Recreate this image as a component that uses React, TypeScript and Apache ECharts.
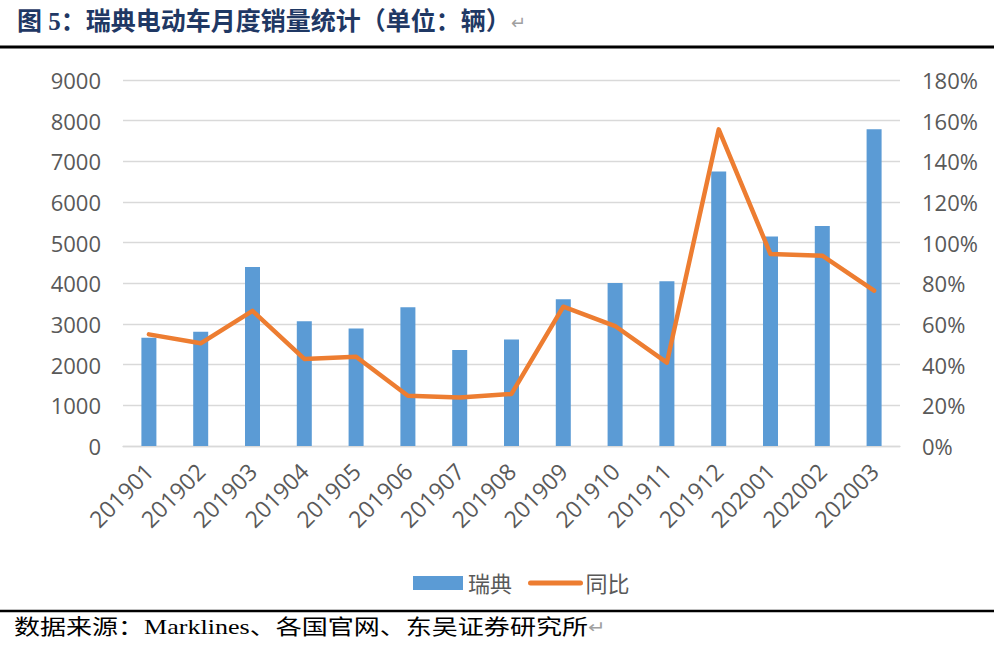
import React, { useEffect, useRef } from "react";
import * as echarts from "echarts";

const categories = [
  "201901", "201902", "201903", "201904", "201905", "201906", "201907", "201908",
  "201909", "201910", "201911", "201912", "202001", "202002", "202003",
];
const sales = [2660, 2810, 4400, 3070, 2890, 3410, 2360, 2620, 3610, 4010, 4050, 6750, 5150, 5410, 7790];
const yoy = [0.549, 0.505, 0.665, 0.428, 0.439, 0.247, 0.238, 0.256, 0.685, 0.59, 0.41, 1.557, 0.944, 0.936, 0.764];
const seriesNames = ["瑞典", "同比"];
const titleText = "图 5：瑞典电动车月度销量统计（单位：辆）";
const sourceText = "数据来源：Marklines、各国官网、东吴证券研究所";

const axisFont = "'Open Sans', 'Noto Sans CJK SC', sans-serif";
const serifFont = "'Liberation Serif', 'Times New Roman', 'Noto Sans CJK SC', serif";

export default function App() {
  const ref = useRef<HTMLDivElement>(null);
  useEffect(() => {
    if (!ref.current) return;
    const chart = echarts.init(ref.current, undefined, { renderer: "svg" });
    chart.setOption({
      animation: false,
      backgroundColor: "#ffffff",
      grid: { left: 123, right: 94, top: 80, bottom: 203 },
      legend: {
        left: 408,
        top: 567,
        itemGap: 16,
        itemWidth: 50,
        itemHeight: 14,
        textStyle: { fontSize: 22, color: "#595959", fontFamily: axisFont },
        data: [
          { name: seriesNames[0], icon: "rect" },
          {
            name: seriesNames[1],
            itemStyle: { color: "rgba(0,0,0,0)", borderColor: "rgba(0,0,0,0)", borderWidth: 0 },
            lineStyle: { width: 5, cap: "round", color: "#ed7d31" },
          },
        ],
      },
      xAxis: {
        type: "category",
        data: categories,
        axisLine: { lineStyle: { color: "#d9d9d9", width: 1.3 } },
        axisTick: { show: false },
        axisLabel: {
          rotate: 45,
          margin: 21,
          fontSize: 23,
          color: "#595959",
          fontFamily: axisFont,
          interval: 0,
        },
      },
      yAxis: [
        {
          type: "value",
          min: 0,
          max: 9000,
          interval: 1000,
          axisLine: { show: false },
          axisTick: { show: false },
          axisLabel: {
            fontSize: 22,
            color: "#595959",
            fontFamily: axisFont,
            margin: 22,
            formatter: (v: number) => `${v}`,
          },
          splitLine: { lineStyle: { color: "#d9d9d9", width: 1.3 } },
        },
        {
          type: "value",
          min: 0,
          max: 1.8,
          interval: 0.2,
          axisLine: { show: false },
          axisTick: { show: false },
          splitLine: { show: false },
          axisLabel: {
            fontSize: 22,
            color: "#595959",
            fontFamily: axisFont,
            margin: 22,
            formatter: (v: number) => `${Math.round(v * 100)}%`,
          },
        },
      ],
      series: [
        {
          name: seriesNames[0],
          type: "bar",
          data: sales,
          barWidth: 15,
          itemStyle: { color: "#5b9bd5" },
        },
        {
          name: seriesNames[1],
          type: "line",
          yAxisIndex: 1,
          data: yoy,
          symbol: "none",
          lineStyle: { color: "#ed7d31", width: 4.5, cap: "round", join: "round" },
          itemStyle: { color: "#ed7d31" },
        },
      ],
      graphic: [
        {
          type: "text",
          x: 17,
          y: 9,
          style: {
            text: `{a|${titleText}}{r|↵}`,
            rich: {
              a: { fontSize: 25, fontWeight: "bold", fill: "#1f3864", fontFamily: serifFont },
              r: { fontSize: 18, fill: "#a0a0a0", fontFamily: axisFont },
            },
          },
        },
        {
          type: "line",
          shape: { x1: 0, y1: 47, x2: 994, y2: 47 },
          style: { stroke: "#000000", lineWidth: 3 },
        },
        {
          type: "line",
          shape: { x1: 0, y1: 611, x2: 994, y2: 611 },
          style: { stroke: "#000000", lineWidth: 2.5 },
        },
        {
          type: "text",
          x: 14,
          y: 616,
          scaleX: 1.24,
          style: {
            text: `{a|${sourceText}}{r|↵}`,
            rich: {
              a: { fontSize: 21, fill: "#000000", fontFamily: serifFont },
              r: { fontSize: 17, fill: "#a0a0a0", fontFamily: axisFont },
            },
          },
        },
      ],
    });
    return () => chart.dispose();
  }, []);
  return (
    <div
      ref={ref}
      style={{ position: "fixed", left: 0, top: 0, width: 994, height: 649, background: "#fff" }}
    />
  );
}
